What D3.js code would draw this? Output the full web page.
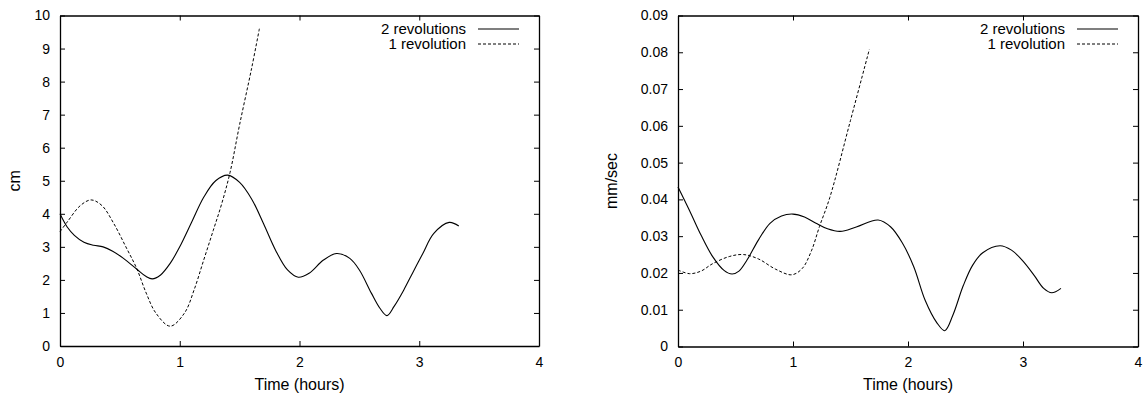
<!DOCTYPE html>
<html>
<head>
<meta charset="utf-8">
<script src="https://cdn.jsdelivr.net/npm/d3@7"></script>
<style>
  html, body { margin: 0; padding: 0; background: #fff; }
  svg text { font-family: "Liberation Sans", Arial, Helvetica, sans-serif; fill: #000; }
</style>
</head>
<body>
<svg id="chart" width="1143" height="400"></svg>
<script>
// ---------- data ----------
const seriesNames = ["2 revolutions", "1 revolution"];
const xTicks = [0, 1, 2, 3, 4];

// Left panel (cm)
const cmTicks = [0, 1, 2, 3, 4, 5, 6, 7, 8, 9, 10];
const cmTime2 = [0, 0.06, 0.12, 0.2, 0.28, 0.36, 0.44, 0.53, 0.64, 0.72, 0.77, 0.84, 0.92, 1.0, 1.1, 1.2, 1.3, 1.4, 1.5, 1.6, 1.7, 1.8, 1.9, 1.99, 2.08, 2.2, 2.31, 2.42, 2.5, 2.6, 2.67, 2.73, 2.79, 2.87, 2.95, 3.03, 3.12, 3.25, 3.33];
const cmRev2  = [4.0, 3.6, 3.35, 3.14, 3.05, 3.0, 2.87, 2.65, 2.33, 2.1, 2.03, 2.15, 2.5, 3.0, 3.75, 4.5, 5.0, 5.17, 4.95, 4.45, 3.7, 2.9, 2.3, 2.08, 2.2, 2.6, 2.8, 2.65, 2.3, 1.6, 1.15, 0.92, 1.2, 1.69, 2.25, 2.8, 3.4, 3.74, 3.63];
const cmTime1 = [0, 0.06, 0.17, 0.26, 0.35, 0.45, 0.55, 0.64, 0.72, 0.8, 0.92, 1.04, 1.12, 1.2, 1.28, 1.35, 1.42, 1.5, 1.6, 1.665];
const cmRev1  = [3.46, 3.75, 4.25, 4.42, 4.25, 3.7, 3.0, 2.35, 1.6, 1.0, 0.6, 1.0, 1.7, 2.6, 3.5, 4.3, 5.25, 6.7, 8.4, 9.6];

// Right panel (mm/sec)
const vTicks = [0, 0.01, 0.02, 0.03, 0.04, 0.05, 0.06, 0.07, 0.08, 0.09];
const vTime2 = [0, 0.1, 0.2, 0.3, 0.4, 0.47, 0.53, 0.6, 0.7, 0.8, 0.9, 1.0, 1.1, 1.2, 1.3, 1.41, 1.55, 1.74, 1.85, 1.95, 2.05, 2.15, 2.25, 2.32, 2.39, 2.48, 2.56, 2.65, 2.8, 2.9, 3.0, 3.1, 3.18, 3.25, 3.33];
const vRev2  = [0.0434, 0.037, 0.0303, 0.0245, 0.0207, 0.0197, 0.0205, 0.0235, 0.029, 0.0335, 0.0355, 0.036, 0.0352, 0.0335, 0.032, 0.0313, 0.0325, 0.0344, 0.0325, 0.0282, 0.0217, 0.0125, 0.0065, 0.0043, 0.0085, 0.0165, 0.022, 0.0255, 0.0274, 0.0262, 0.0232, 0.0192, 0.0158, 0.0146, 0.0158];
const vTime1 = [0, 0.1, 0.2, 0.3, 0.45, 0.57, 0.7, 0.85, 0.99, 1.08, 1.16, 1.23, 1.32, 1.5, 1.664];
const vRev1  = [0.0208, 0.0198, 0.0205, 0.0225, 0.0245, 0.025, 0.0238, 0.021, 0.0195, 0.0212, 0.026, 0.0326, 0.0405, 0.0615, 0.0808];

// ---------- drawing ----------
const svg = d3.select("#chart");
const TICK = 5;

function drawPanel(cfg) {
  const x = d3.scaleLinear().domain([0, 4]).range([cfg.left, cfg.right]);
  const y = d3.scaleLinear().domain([cfg.yTicks[0], cfg.yTicks[cfg.yTicks.length - 1]]).range([cfg.bottom, cfg.top]);
  const g = svg.append("g");

  const styleAxis = sel => {
    sel.selectAll("path.domain").attr("stroke", "#000").attr("stroke-width", 1.3);
    sel.selectAll(".tick line").attr("stroke", "#000").attr("stroke-width", 1);
    sel.selectAll("text").attr("font-size", 14).attr("font-family", '"Liberation Sans", Arial, sans-serif');
  };

  g.append("g").attr("transform", `translate(0,${cfg.bottom})`)
    .call(d3.axisBottom(x).tickValues(xTicks).tickFormat(d3.format("d")).tickSizeInner(-TICK).tickSizeOuter(0).tickPadding(11))
    .call(styleAxis);
  g.append("g").attr("transform", `translate(0,${cfg.top})`)
    .call(d3.axisTop(x).tickValues(xTicks).tickFormat("").tickSizeInner(-TICK).tickSizeOuter(0))
    .call(styleAxis);
  g.append("g").attr("transform", `translate(${cfg.left},0)`)
    .call(d3.axisLeft(y).tickValues(cfg.yTicks).tickFormat(cfg.fmt).tickSizeInner(-TICK).tickSizeOuter(0).tickPadding(10))
    .call(styleAxis);
  g.append("g").attr("transform", `translate(${cfg.right},0)`)
    .call(d3.axisRight(y).tickValues(cfg.yTicks).tickFormat("").tickSizeInner(-TICK).tickSizeOuter(0))
    .call(styleAxis);

  const line = d3.line().x(d => x(d[0])).y(d => y(d[1])).curve(d3.curveCatmullRom.alpha(0.5));

  const s2 = cfg.t2.map((t, i) => [t, cfg.v2[i]]);
  const s1 = cfg.t1.map((t, i) => [t, cfg.v1[i]]);

  g.append("path").datum(s2).attr("d", line)
    .attr("fill", "none").attr("stroke", "#000").attr("stroke-width", 1.1);
  g.append("path").datum(s1).attr("d", line)
    .attr("fill", "none").attr("stroke", "#000").attr("stroke-width", 1).attr("stroke-dasharray", "3,2");

  // axis titles
  g.append("text").attr("x", (cfg.left + cfg.right) / 2).attr("y", 390)
    .attr("text-anchor", "middle").attr("font-size", 16).text("Time (hours)");
  g.append("text").attr("transform", `translate(${cfg.yLabelX},${(cfg.top + cfg.bottom) / 2}) rotate(-90)`)
    .attr("text-anchor", "middle").attr("font-size", 16).text(cfg.yLabel);

  // legend
  const legY = [29, 44];
  seriesNames.forEach((name, i) => {
    g.append("text").attr("x", cfg.right - 73).attr("y", legY[i]).attr("dy", "0.35em")
      .attr("text-anchor", "end").attr("font-size", 15).text(name);
    g.append("line").attr("x1", cfg.right - 61).attr("x2", cfg.right - 20)
      .attr("y1", legY[i]).attr("y2", legY[i])
      .attr("stroke", i === 0 ? "#555" : "#000").attr("stroke-width", i === 0 ? 1.5 : 1)
      .attr("stroke-dasharray", i === 0 ? null : "3,2");
  });
}

drawPanel({
  left: 60, right: 539, top: 15.5, bottom: 346,
  yTicks: cmTicks, fmt: d3.format("d"), yLabel: "cm", yLabelX: 20,
  t2: cmTime2, v2: cmRev2, t1: cmTime1, v1: cmRev1
});
drawPanel({
  left: 678, right: 1138, top: 15.5, bottom: 346.5,
  yTicks: vTicks, fmt: d => d === 0 ? "0" : d3.format(".2f")(d), yLabel: "mm/sec", yLabelX: 617,
  t2: vTime2, v2: vRev2, t1: vTime1, v1: vRev1
});
</script>
</body>
</html>
